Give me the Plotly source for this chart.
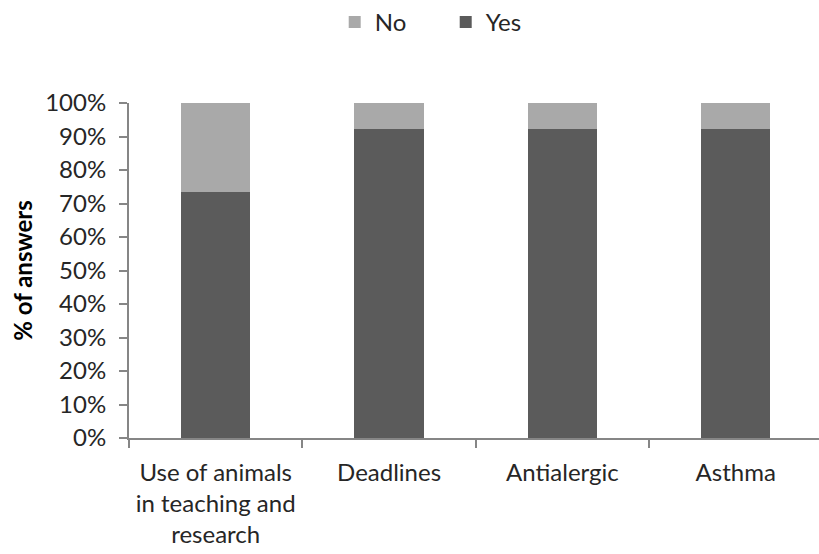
import plotly.graph_objects as go

categories = ["Use of animals<br>in teaching and<br>research", "Deadlines", "Antialergic", "Asthma"]
yes_pct = [73.3, 92.3, 92.3, 92.3]
no_pct = [26.7, 7.7, 7.7, 7.7]
y_ticks = [0, 10, 20, 30, 40, 50, 60, 70, 80, 90, 100]
y_tick_labels = [f"{v}%" for v in y_ticks]

FONT = "Lato"
TEXT = "#262626"
AXIS = "#868686"

fig = go.Figure()
fig.add_trace(go.Bar(x=categories, y=yes_pct, name="Yes",
                     marker=dict(color="#5b5b5b", line=dict(width=0))))
fig.add_trace(go.Bar(x=categories, y=no_pct, name="No",
                     marker=dict(color="#a9a9a9", line=dict(width=0))))

fig.update_layout(
    width=819, height=554,
    margin=dict(l=129, r=0, t=103, b=116),
    barmode="stack", bargap=0.6,
    plot_bgcolor="white", paper_bgcolor="white",
    font=dict(family=FONT, size=24, color=TEXT),
    legend=dict(orientation="h", traceorder="reversed",
                x=0.459, xanchor="center", y=1.0, yref="container", yanchor="top",
                font=dict(size=24, color=TEXT), entrywidth=66),
    showlegend=True,
)
fig.update_xaxes(
    range=[-0.5, 3.48], showgrid=False, showline=True, linecolor=AXIS, linewidth=2,
    ticks="outside", tickson="boundaries", ticklen=8, tickwidth=2, tickcolor=AXIS,
    tickfont=dict(size=24, family=FONT, color=TEXT), ticklabelstandoff=12,
)
fig.update_yaxes(
    range=[0, 100], showgrid=False, showline=True, linecolor=AXIS, linewidth=2,
    tickvals=y_ticks, ticktext=y_tick_labels,
    ticks="outside", ticklen=8, tickwidth=2, tickcolor=AXIS,
    tickfont=dict(size=24, family=FONT, color=TEXT), ticklabelstandoff=8,
    title=dict(text="<b>% of answers</b>", font=dict(size=24, family=FONT, color="#000000"),
               standoff=6),
    zeroline=False,
)

fig.write_html("out.html")
